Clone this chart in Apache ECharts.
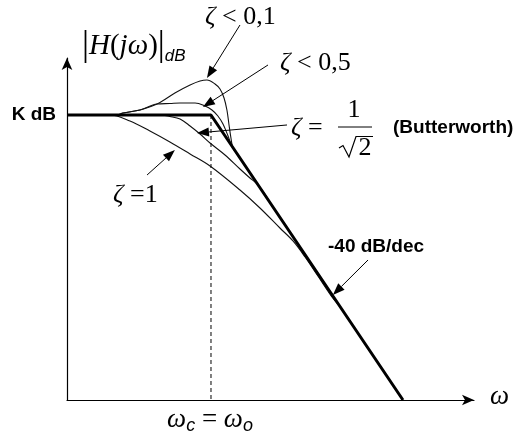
<!DOCTYPE html>
<html>
<head>
<meta charset="utf-8">
<script src="https://cdn.jsdelivr.net/npm/echarts@6/dist/echarts.min.js"></script>
<style>
  html, body { margin: 0; padding: 0; background: #fff; }
  #c { width: 520px; height: 434px; }
</style>
</head>
<body>
<div id="c"></div>
<script>
// x: log10(ω/ωo) in decades, y: |H(jω)| in dB relative to the passband gain K.

// Straight-line (asymptotic) Bode magnitude: flat at K, then -40 dB/dec.
const asymX = [-0.75, 0, 1];
const asymY = [0, 0, -40];

// Corner frequency marker ωc = ωo.
const cornerX = [0, 0];
const cornerY = [0, -40];

// ζ < 0,1 (strong resonance peak)
const zeta01X = [-0.75, -0.49, -0.458, -0.37, -0.281, -0.188, -0.109, -0.057, -0.021, 0.021, 0.047, 0.068, 0.083, 0.094, 0.104, 0.115, 0.151, 0.203];
const zeta01Y = [0, 0, 0.28, 0.70, 1.54, 3.09, 4.21, 4.77, 4.91, 4.35, 3.65, 2.39, 0.70, -1.40, -3.23, -4.63, -6.04, -8.14];

// ζ < 0,5 (mild peak)
const zeta05X = [-0.75, -0.49, -0.458, -0.37, -0.281, -0.214, -0.161, -0.083, -0.031, 0.005, 0.036, 0.0625, 0.089, 0.109, 0.151, 0.203];
const zeta05Y = [0, 0, 0.28, 0.70, 1.54, 1.61, 1.68, 1.68, 1.26, 0.70, -0.14, -1.26, -2.95, -4.35, -6.04, -8.14];

// ζ = 1/√2 (Butterworth)
const buttX = [-0.75, -0.266, -0.214, -0.161, -0.109, -0.057, -0.005, 0.073, 0.151, 0.203, 0.245, 0.307];
const buttY = [0, 0, -0.21, -0.56, -1.54, -2.67, -3.93, -5.61, -7.58, -8.84, -9.82, -12.21];

// ζ = 1 (critically damped)
const zeta1X = [-0.75, -0.526, -0.422, -0.318, -0.214, -0.109, -0.005, 0.151, 0.255, 0.359, 0.427, 0.490, 0.557, 0.630, 0.661];
const zeta1Y = [0, 0, -0.84, -2.25, -3.79, -5.47, -7.16, -10.53, -13.05, -15.86, -17.68, -19.93, -22.60, -25.54, -26.53];

// Pointer arrows: tail and tip, in the same data units.
const arrowTails = [[0.151, 12.63], [0.297, 7.02], [0.396, -1.40], [-0.333, -8.42], [0.818, -20.35]];
const arrowTips  = [[-0.021, 5.19], [-0.042, 1.12], [-0.073, -2.53], [-0.188, -4.91], [0.635, -25.26]];

const zip = (xs, ys) => xs.map((x, i) => [x, ys[i]]);

const SERIF = "'Liberation Serif', 'Times New Roman', serif";
const SANS = "'Liberation Sans', Arial, sans-serif";

const chart = echarts.init(document.getElementById('c'), null, { renderer: 'canvas' });

const thin = (name, xs, ys) => ({
  name, type: 'line', data: zip(xs, ys), smooth: 0.35, showSymbol: false, silent: true,
  lineStyle: { color: '#111', width: 1.1 }, z: 2
});

const axisCommon = {
  type: 'value',
  axisLine: { show: true, onZero: false, symbol: ['none', 'arrow'], symbolSize: [8, 12],
              lineStyle: { color: '#000', width: 1.2 } },
  axisTick: { show: false }, axisLabel: { show: false }, splitLine: { show: false }
};

chart.setOption({
  animation: false,
  backgroundColor: '#fff',
  grid: { left: 67, right: 46, top: 58, bottom: 34 },
  xAxis: Object.assign({ min: -0.75, max: 1.37 }, axisCommon),
  yAxis: Object.assign({ min: -40, max: 8 }, axisCommon),
  series: [
    {
      name: 'corner', type: 'line', data: zip(cornerX, cornerY), showSymbol: false, silent: true,
      lineStyle: { color: '#000', width: 1, type: [4, 3] }, z: 1
    },
    thin('zeta01', zeta01X, zeta01Y),
    thin('zeta05', zeta05X, zeta05Y),
    thin('butterworth', buttX, buttY),
    thin('zeta1', zeta1X, zeta1Y),
    {
      name: 'asymptote', type: 'line', data: zip(asymX, asymY), showSymbol: false, silent: true,
      lineStyle: { color: '#000', width: 3 }, z: 3
    }
  ]
});

const px = p => chart.convertToPixel({ gridIndex: 0 }, p);

function arrow(tail, tip) {
  const a = px(tail), b = px(tip);
  const dx = b[0] - a[0], dy = b[1] - a[1];
  const len = Math.hypot(dx, dy), ux = dx / len, uy = dy / len;
  const hl = 12, hw = 4.5;
  const bx = b[0] - ux * hl, by = b[1] - uy * hl;
  return [
    { type: 'line', shape: { x1: a[0], y1: a[1], x2: bx, y2: by }, style: { stroke: '#000', lineWidth: 1 }, z: 10 },
    { type: 'polygon', shape: { points: [[b[0], b[1]], [bx - uy * hw, by + ux * hw], [bx + uy * hw, by - ux * hw]] },
      style: { fill: '#000' }, z: 10 }
  ];
}

function txt(x, y, text, extra) {
  return {
    type: 'text', x, y, z: 10,
    style: Object.assign({ text, fill: '#000', verticalAlign: 'middle', align: 'left' }, extra)
  };
}

const greek = { fontFamily: SERIF, fontStyle: 'italic', fontSize: 26 };
const up = { fontFamily: SERIF, fontSize: 26 };

const graphics = [];
arrowTails.forEach((t, i) => graphics.push(...arrow(t, arrowTips[i])));

graphics.push(
  // |H(jω)|dB
  txt(82, 46, '{b||}{i|H}{p|(}{i|jω}{p|)}{b||}{s|dB}', {
    rich: {
      b: { fontFamily: SERIF, fontSize: 35 },
      i: { fontFamily: SERIF, fontStyle: 'italic', fontSize: 29 },
      p: { fontFamily: SERIF, fontSize: 29 },
      s: { fontFamily: SANS, fontStyle: 'italic', fontSize: 17, padding: [20, 0, 0, 0] }
    }
  }),
  txt(205, 17, '{g|ζ}{t| < 0,1}', { rich: { g: greek, t: up } }),
  txt(280, 63, '{g|ζ}{t| < 0,5}', { rich: { g: greek, t: up } }),
  txt(291, 128, '{g|ζ}{t| =}', { rich: { g: greek, t: up } }),
  txt(354, 110, '1', { fontFamily: SERIF, fontSize: 26, align: 'center' }),
  { type: 'line', shape: { x1: 338, y1: 127, x2: 372, y2: 127 }, style: { stroke: '#000', lineWidth: 1 } },
  { type: 'polyline', shape: { points: [[339, 148], [343, 145.5], [349, 157], [356, 136.5], [373, 136.5]] },
    style: { stroke: '#000', lineWidth: 1.2, fill: null } },
  txt(365, 148, '2', { fontFamily: SERIF, fontSize: 26, align: 'center' }),
  txt(393, 128, '(Butterworth)', { fontFamily: SANS, fontWeight: 'bold', fontSize: 19 }),
  txt(56, 115, 'K dB', { fontFamily: SANS, fontWeight: 'bold', fontSize: 19, align: 'right' }),
  txt(113, 195, '{g|ζ}{t| =1}', { rich: { g: greek, t: up } }),
  txt(328, 247, '-40 dB/dec', { fontFamily: SANS, fontWeight: 'bold', fontSize: 19 }),
  txt(490, 397, 'ω', { fontFamily: SERIF, fontStyle: 'italic', fontSize: 27 }),
  txt(210, 420, '{w|ω}{s|c}{e| = }{w|ω}{s|o}', {
    align: 'center',
    rich: {
      w: { fontFamily: SERIF, fontStyle: 'italic', fontSize: 27 },
      e: { fontFamily: SERIF, fontSize: 27 },
      s: { fontFamily: SANS, fontStyle: 'italic', fontSize: 18, padding: [12, 0, 0, 0] }
    }
  })
);

chart.setOption({ graphic: graphics });
</script>
</body>
</html>
